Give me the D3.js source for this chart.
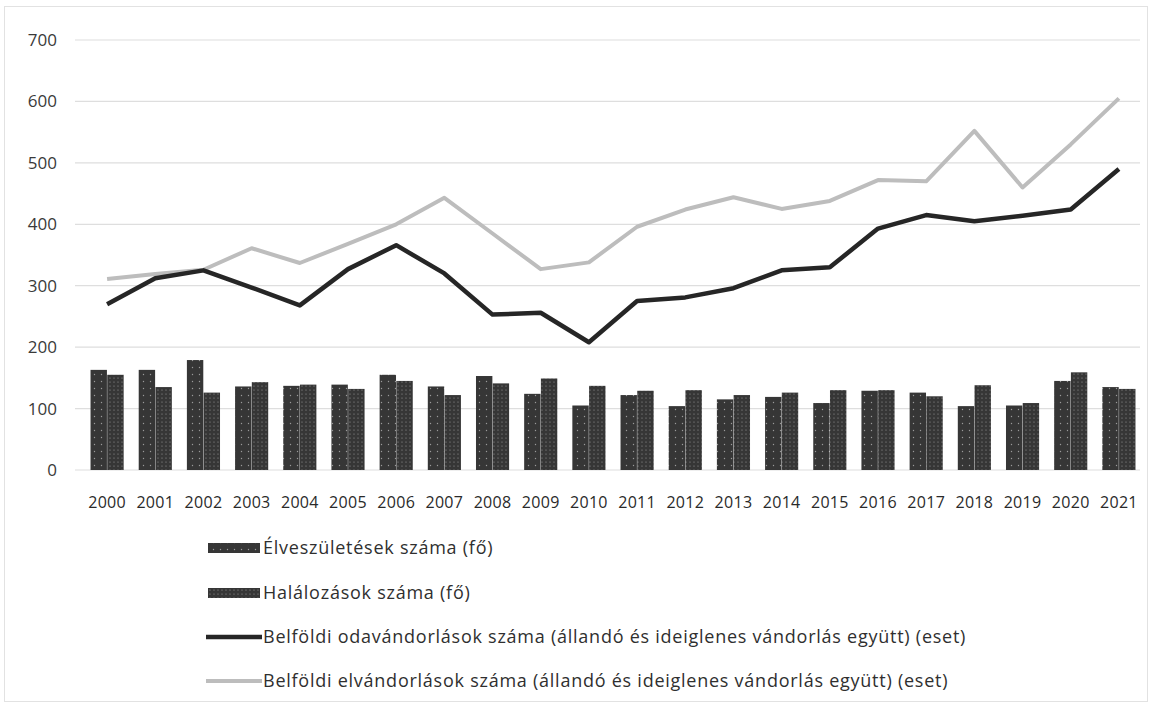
<!DOCTYPE html>
<html><head><meta charset="utf-8">
<script src="https://cdn.jsdelivr.net/npm/d3@7"></script>
<style>
html,body{margin:0;padding:0;background:#fff;}
svg{display:block;font-family:"Open Sans","Noto Sans",sans-serif;}
</style></head>
<body><svg id="c" width="1153" height="709"></svg>
<script>
const years = ["2000","2001","2002","2003","2004","2005","2006","2007","2008","2009","2010","2011","2012","2013","2014","2015","2016","2017","2018","2019","2020","2021"];
const births = [163,163,179,136,137,139,155,136,153,124,105,122,104,115,119,109,129,126,104,105,145,135];
const deaths = [155,135,126,143,139,132,145,122,141,149,137,129,130,122,126,130,130,120,138,109,159,132];
const inMigration = [270,312,325,297,268,327,366,320,253,256,208,275,281,296,325,330,393,415,405,414,424,490];
const outMigration = [311,319,326,361,337,368,400,443,385,327,338,396,424,444,425,438,472,470,552,460,530,605];
const yTicks = [0,100,200,300,400,500,600,700];
const seriesNames = ["Élveszületések száma (fő)","Halálozások száma (fő)","Belföldi odavándorlások száma (állandó és ideiglenes vándorlás együtt) (eset)","Belföldi elvándorlások száma (állandó és ideiglenes vándorlás együtt) (eset)"];

const svg = d3.select("#c");
const defs = svg.append("defs");
function dotPattern(id, spacing, r){
  const p = defs.append("pattern").attr("id",id).attr("patternUnits","userSpaceOnUse").attr("width",spacing).attr("height",spacing);
  p.append("rect").attr("width",spacing).attr("height",spacing).attr("fill","#363636");
  p.append("circle").attr("cx",spacing/2).attr("cy",spacing/2).attr("r",r).attr("fill","#9a9a9a");
}
dotPattern("pBirth",7,0.7);
dotPattern("pDeath",4,0.6);

svg.append("rect").attr("x",4.5).attr("y",6.5).attr("width",1143).attr("height",695).attr("fill","none").attr("stroke","#e2e2e2");

const x = d3.scaleBand().domain(years).range([83,1143]);
const xs = d3.scaleBand().domain(["b","d"]).range([0,x.bandwidth()]).paddingInner(0.02).paddingOuter(0.45);
const y = d3.scaleLinear().domain([0,700]).range([470,40]);

// grid
svg.append("g").selectAll("line").data(yTicks).join("line")
  .attr("x1",75).attr("x2",1140).attr("y1",d=>y(d)).attr("y2",d=>y(d))
  .attr("stroke","#dedede").attr("stroke-width",1.2);

// y axis labels
const yAxis = d3.axisLeft(y).tickValues(yTicks).tickSize(0).tickPadding(0);
const ga = svg.append("g").attr("transform","translate(57,0)").call(yAxis);
ga.select(".domain").remove();
ga.selectAll("text").attr("font-size",17).attr("fill","#3a3a3a").attr("font-family","'Open Sans',sans-serif");

// x axis labels
const xAxis = d3.axisBottom(x).tickSize(0).tickPadding(0);
const gx = svg.append("g").attr("transform","translate(0,496)").call(xAxis);
gx.select(".domain").remove();
gx.selectAll("text").attr("font-size",16).attr("letter-spacing",0.3).attr("fill","#2a2a2a").attr("font-family","'Open Sans',sans-serif").attr("dy","0.72em");

// bars
const bars = svg.append("g");
bars.selectAll("rect.b").data(years).join("rect").attr("class","b")
  .attr("x",(d)=>x(d)+xs("b")).attr("width",xs.bandwidth())
  .attr("y",(d,i)=>y(births[i])).attr("height",(d,i)=>y(0)-y(births[i]))
  .attr("fill","url(#pBirth)");
bars.selectAll("rect.d").data(years).join("rect").attr("class","d")
  .attr("x",(d)=>x(d)+xs("d")).attr("width",xs.bandwidth())
  .attr("y",(d,i)=>y(deaths[i])).attr("height",(d,i)=>y(0)-y(deaths[i]))
  .attr("fill","url(#pDeath)");

// lines
const line = d3.line().x((d,i)=>x(years[i])+x.bandwidth()/2).y(d=>y(d));
svg.append("path").datum(outMigration).attr("d",line).attr("fill","none").attr("stroke","#bdbdbd").attr("stroke-width",4).attr("stroke-linejoin","round");
svg.append("path").datum(inMigration).attr("d",line).attr("fill","none").attr("stroke","#262626").attr("stroke-width",4.5).attr("stroke-linejoin","round");

// legend
const lg = svg.append("g");
const rowY = [548,593,637,681];
seriesNames.forEach((name,i)=>{
  const yy = rowY[i];
  if(i<2){
    lg.append("rect").attr("x",208).attr("y",yy-5).attr("width",52).attr("height",10).attr("fill",i===0?"url(#pBirth)":"url(#pDeath)");
  } else {
    lg.append("line").attr("x1",206).attr("x2",262).attr("y1",yy).attr("y2",yy)
      .attr("stroke",i===2?"#262626":"#bdbdbd").attr("stroke-width",i===2?4.5:4);
  }
  lg.append("text").attr("x",263).attr("y",yy).attr("dy","0.35em").attr("font-size",18).attr("letter-spacing",0.75)
    .attr("fill","#2f2f2f").text(name);
});
</script>
</body></html>
